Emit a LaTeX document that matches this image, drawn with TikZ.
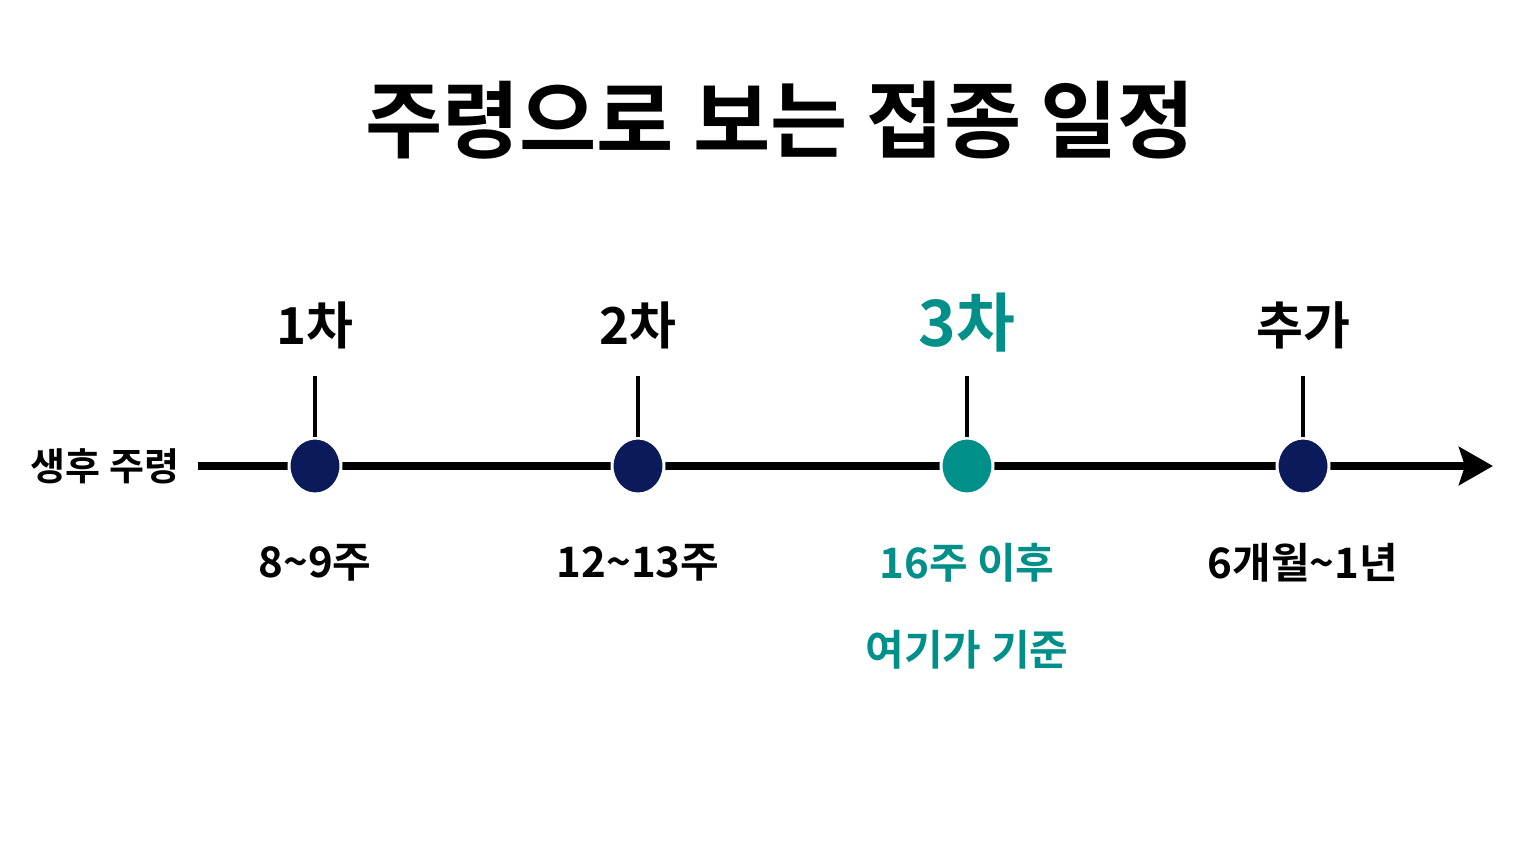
\documentclass[tikz,border=0pt]{standalone}
\usepackage{fontspec}
\newfontfamily\kr{Noto Sans CJK KR Bold}
\usetikzlibrary{arrows.meta,shapes.geometric}
\definecolor{teal1}{HTML}{009089}
\definecolor{navy1}{HTML}{0A1A5A}
\tikzset{
  dot/.style={ellipse,draw=white,line width=1.5pt,minimum width=26pt,minimum height=28pt,inner sep=0pt},
  tick/.style={line width=2pt,black},
  axis/.style={line width=4pt,black},
  lbl/.style={font=\kr\fontsize{25.5}{28}\selectfont,anchor=center,inner sep=0pt},
  age/.style={font=\kr\fontsize{21}{24}\selectfont,anchor=center,inner sep=0pt},
}
\begin{document}
\begin{tikzpicture}[x=0.5pt,y=-0.5pt]
\useasboundingbox[fill=white] (0,0) rectangle (1536,864);
\node[font=\kr\fontsize{42}{48}\selectfont,inner sep=0pt] (title) at (780,120) {주령으로 보는 접종 일정};
\node[font=\kr\fontsize{19}{22}\selectfont,inner sep=0pt] (axislbl) at (105,466) {생후 주령};
\coordinate (start) at (198,466);
\coordinate (end) at (1493,466);
\draw[axis,-{Stealth[length=17pt,width=19pt,inset=3pt]}] (start) -- (end);
\coordinate (t1) at (315,376);
\coordinate (t2) at (638,376);
\coordinate (t3) at (967,376);
\coordinate (t4) at (1303,376);
\node[dot,fill=navy1] (d1) at (315,466) {};
\node[dot,fill=navy1] (d2) at (638,466) {};
\node[dot,fill=teal1] (d3) at (967,466) {};
\node[dot,fill=navy1] (d4) at (1303,466) {};
\draw[tick] (t1) -- (d1.north);
\draw[tick] (t2) -- (d2.north);
\draw[tick] (t3) -- (d3.north);
\draw[tick] (t4) -- (d4.north);
\node[lbl] (l1) at (315,325) {1차};
\node[lbl] (l2) at (638,325) {2차};
\node[lbl,font=\kr\fontsize{32}{34}\selectfont,text=teal1] (l3) at (967,323) {3차};
\node[lbl] (l4) at (1303,325) {추가};
\node[age] (a1) at (315,563) {8\char`~9주};
\node[age] (a2) at (638,563) {12\char`~13주};
\node[age,text=teal1] (a3) at (967,563) {16주 이후};
\node[age] (a4) at (1303,563) {6개월\char`~1년};
\node[age,text=teal1] (n3) at (967,650) {여기가 기준};
\end{tikzpicture}
\end{document}
